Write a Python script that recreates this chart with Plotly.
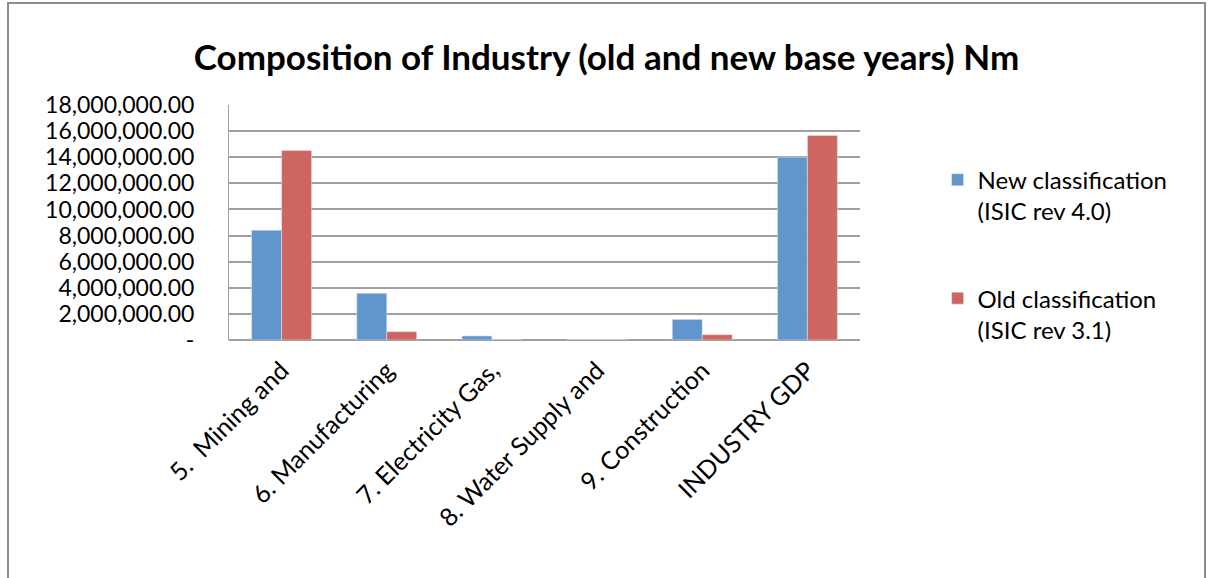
import plotly.graph_objects as go

categories = ["5.  Mining and", "6. Manufacturing", "7. Electricity Gas,",
              "8. Water Supply and", "9. Construction", "INDUSTRY GDP"]
new_class = [8410000, 3580000, 310000, 30000, 1580000, 14000000]
old_class = [14510000, 640000, 50000, 20000, 410000, 15670000]

y_ticks = [0, 2000000, 4000000, 6000000, 8000000, 10000000,
           12000000, 14000000, 16000000, 18000000]
y_labels = ["-"] + ["{:,.2f}".format(v) for v in y_ticks[1:]]

font = "Lato"

fig = go.Figure()
fig.add_trace(go.Bar(x=categories, y=new_class, name="New classification<br>(ISIC rev 4.0)",
                     marker_color="#6096CB", legendgroup="a"))
fig.add_trace(go.Bar(x=categories, y=old_class, name="Old classification<br>(ISIC rev 3.1)",
                     marker_color="#CD6660", legendgroup="b"))

fig.update_layout(
    width=1213, height=578,
    margin=dict(l=229, r=353, t=105, b=238),
    paper_bgcolor="white", plot_bgcolor="white",
    font=dict(family=font, size=23, color="black"),
    title=dict(text="<b>Composition of Industry (old and new base years) Nm</b>",
               x=0.5, xanchor="center", y=0.9, yanchor="middle",
               font=dict(family=font, size=35, color="black")),
    barmode="group", bargap=0.43, bargroupgap=0,
    showlegend=True,
    legend=dict(x=1.123, y=0.776, xanchor="left", yanchor="top", valign="top",
                tracegroupgap=53, font=dict(size=24)),
)
fig.update_xaxes(tickangle=-45, showline=False, showgrid=False, ticks="",
                 ticklabelstandoff=10, automargin=False, tickfont=dict(size=25))
fig.update_yaxes(range=[0, 18000000], tickvals=y_ticks, ticktext=y_labels,
                 showgrid=True, gridcolor="#A0A0A0", gridwidth=2,
                 zeroline=True, zerolinecolor="#A0A0A0", zerolinewidth=2,
                 showline=True, linecolor="#A0A0A0", linewidth=1,
                 ticks="", ticklabelstandoff=29, automargin=False,
                 tickfont=dict(size=23))

# outer chart border
fig.add_shape(type="rect", xref="paper", yref="paper",
              x0=(8 - 229) / 631, x1=(1205 - 229) / 631,
              y0=(340 - 600) / 235, y1=(340 - 3) / 235,
              line=dict(color="#8C8C8C", width=2), layer="below")

# drop the default page margin so the figure sits at the window corner
fig.write_html("out.html", config={"displayModeBar": False},
               post_script="document.body.style.margin='0';")
